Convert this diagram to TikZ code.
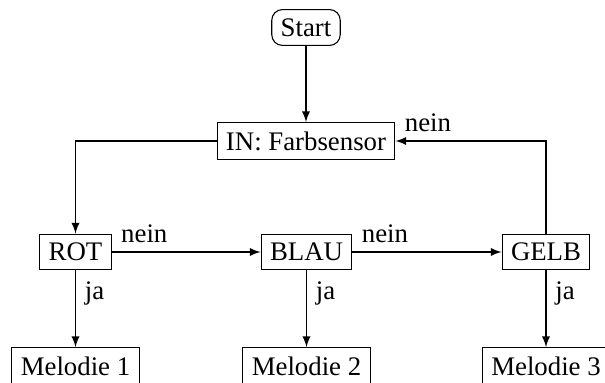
\documentclass[tikz,border=0pt]{standalone}
\usepackage{fontspec}
\setmainfont{Liberation Serif}
\usetikzlibrary{arrows}
\begin{document}
\begin{tikzpicture}[x=0.3731pt, y=-0.3731pt,
  box/.style={draw, rectangle, inner sep=3.33pt},
  terminal/.style={draw, rectangle, rounded corners=4pt, inner sep=3.33pt},
  flow/.style={-latex},
  lbl/.style={inner sep=3.33pt}]
  \useasboundingbox (0,0) rectangle (605,383);

  % nodes
  \node[terminal] (start) at (306,27.5) {Start};
  \node[box] (in) at (306,141) {IN: Farbsensor};
  \node[box] (rot) at (75.5,252) {ROT};
  \node[box] (blau) at (306.5,252) {BLAU};
  \node[box] (gelb) at (546,252) {GELB};
  \node[box] (m1) at (75.5,366) {Melodie 1};
  \node[box] (m2) at (306.5,366) {Melodie 2};
  \node[box] (m3) at (546,366) {Melodie 3};

  % connectors
  \draw[flow] (start) -- (in);
  \draw[flow] (in.west) -| (rot.north);
  \draw[flow] (rot) -- node[lbl, pos=0, above right] {nein} (blau);
  \draw[flow] (blau) -- node[lbl, pos=0, above right] {nein} (gelb);
  \draw[flow] (gelb.north) |- node[lbl, pos=1, above right] {nein} (in.east);
  \draw[flow] (rot) -- node[lbl, pos=0.3, right] {ja} (m1);
  \draw[flow] (blau) -- node[lbl, pos=0.3, right] {ja} (m2);
  \draw[flow] (gelb) -- node[lbl, pos=0.3, right] {ja} (m3);
\end{tikzpicture}
\end{document}
